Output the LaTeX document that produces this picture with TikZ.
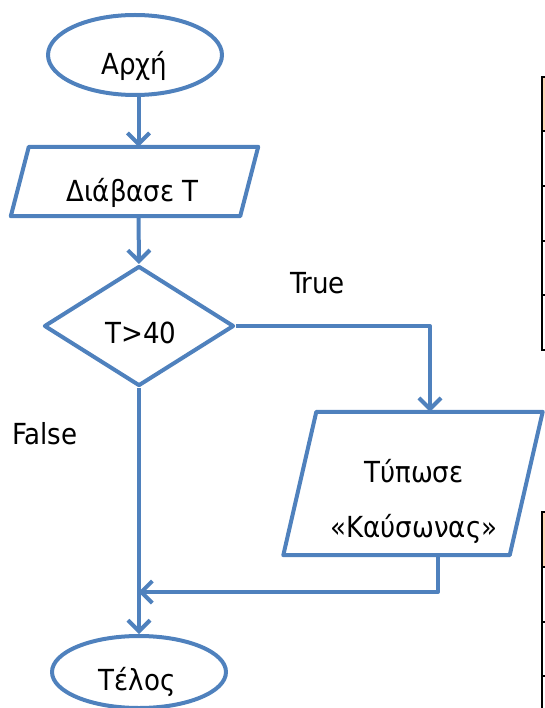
\documentclass[tikz,border=0pt]{standalone}
\usepackage{fontspec}
\setmainfont{DejaVu Sans Condensed}
\usetikzlibrary{shapes.geometric,arrows.meta,calc}
\definecolor{flowblue}{RGB}{79,129,189}
\definecolor{peach}{RGB}{251,212,180}
\begin{document}
\begin{tikzpicture}[x=1pt,y=-1pt,
  flow/.style={draw=flowblue,line width=4pt,line join=round},
  term/.style={flow,ellipse,minimum width=174pt,minimum height=80pt,inner sep=0pt},
  iobox/.style={inner sep=0pt,minimum height=69pt},
  decide/.style={flow,diamond,minimum width=190pt,minimum height=120pt,inner sep=0pt},
  arr/.style={flow,-{Straight Barb[length=11pt,width=22pt]}},
  txt/.style={font=\fontsize{29}{33}\selectfont,anchor=base,inner sep=0pt},
  tbl/.style={line width=2pt,draw=black}]
\useasboundingbox (0,0) rectangle (545,708);

% tables (cut off at the right)
\fill[peach] (543,78) rectangle (545,130);
\draw[tbl] (545,77) -- (542,77) -- (542,350) -- (545,350);
\foreach \yy in {131,186,241,295} \draw[tbl] (542,\yy) -- (545,\yy);
\fill[peach] (543,513) rectangle (545,566);
\draw[tbl] (545,512) -- (542,512) -- (542,708);
\foreach \yy in {567,622,676} \draw[tbl] (542,\yy) -- (545,\yy);

\coordinate (axis) at (138.5,0);

% shapes
\node[term] (start) at (135,55) {};
\node[iobox,minimum width=229pt] (read) at (134.5,181.5) {};
\draw[flow] ($(read.north west)+(9,0)$) -- ($(read.north east)+(9,0)$)
  -- ($(read.south east)+(-9,0)$) -- ($(read.south west)+(-9,0)$) -- cycle;
\node[decide] (cond) at (139,326) {};
\node[iobox,minimum width=226pt,minimum height=143pt] (out) at (413,483.5) {};
\draw[flow] ($(out.north west)+(16.5,0)$) -- ($(out.north east)+(16.5,0)$)
  -- ($(out.south east)+(-16.5,0)$) -- ($(out.south west)+(-16.5,0)$) -- cycle;
\node[term,minimum height=72pt] (end) at (139,672) {};

% texts
\node[txt] (tstart) at (134.5,75) {Αρχή};
\node[txt] (tread) at (132.5,202) {Διάβασε Τ};
\node[txt] (tcond) at (141,343) {T>40};
\node[txt] (ttrue) at (317.5,293) {True};
\node[txt] (tfalse) at (45,444) {False};
\node[txt] (tend) at (137,690) {Τέλος};
\node[txt,align=center,font=\fontsize{29}{55}\selectfont] (tout) at (414,537) {Τύπωσε\\«Καύσωνας»};

% connectors
\coordinate (merge) at (138.5,592);
\draw[arr] (start.south -| axis) -- (read.north -| axis);
\draw[arr] (read.south -| axis) -- (cond.north);
\draw[arr] (cond.east) -| ($(out.north)+(17,0)$);
\draw[arr] (cond.south) -- (end.north -| cond.south);
\draw[arr] ($(out.south)+(25,0)$) |- (merge);
\end{tikzpicture}
\end{document}
